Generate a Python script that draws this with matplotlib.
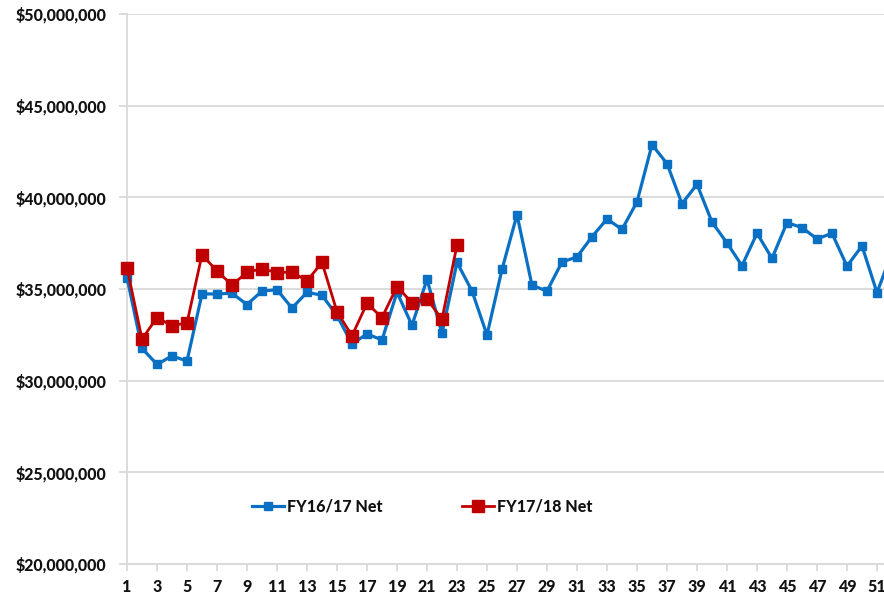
import matplotlib
matplotlib.use("Agg")
import matplotlib.pyplot as plt
from matplotlib.ticker import FuncFormatter, MultipleLocator, FixedLocator

weeks = list(range(1, 53))
fy1617 = [35.62, 31.76, 30.89, 31.35, 31.07, 34.73, 34.73, 34.77, 34.15, 34.89,
          34.96, 33.96, 34.82, 34.66, 33.55, 32.00, 32.55, 32.22, 34.82, 33.02,
          35.53, 32.58, 36.45, 34.89, 32.49, 36.07, 39.05, 35.20, 34.89, 36.47,
          36.75, 37.85, 38.82, 38.25, 39.75, 42.87, 41.84, 39.65, 40.71, 38.65,
          37.51, 36.27, 38.04, 36.67, 38.62, 38.35, 37.73, 38.04, 36.25, 37.35,
          34.80, 37.00]
fy1718 = [36.16, 32.27, 33.44, 33.00, 33.15, 36.87, 35.98, 35.22, 35.91, 36.11,
          35.89, 35.93, 35.44, 36.45, 33.76, 32.45, 34.22, 33.44, 35.13, 34.25,
          34.45, 33.35, 37.40]
fy1617 = [v * 1e6 for v in fy1617]
fy1718 = [v * 1e6 for v in fy1718]
x_ticks = list(range(1, 52, 2))

plt.rcParams['font.family'] = ['Lato', 'DejaVu Sans']

fig = plt.figure(figsize=(8.84, 5.95), dpi=100)
ax = fig.add_axes([127 / 884, 1 - 564 / 595, 765 / 884, 550 / 595])

blue = '#0A70C4'
red = '#C00000'
ax.plot(weeks, fy1617, color=blue, lw=2.3, marker='s', ms=5.5,
        label='FY16/17 Net', zorder=3, clip_on=False)
ax.plot(weeks[:len(fy1718)], fy1718, color=red, lw=2.0, marker='s', ms=8.5,
        label='FY17/18 Net', zorder=4, clip_on=False)

ax.set_xlim(1, 52)
ax.set_ylim(20e6, 50e6)
ax.yaxis.set_major_locator(MultipleLocator(5e6))
ax.yaxis.set_major_formatter(FuncFormatter(lambda v, p: f"${v:,.0f}"))
ax.xaxis.set_major_locator(FixedLocator(x_ticks))

ax.grid(axis='y', color='#D9D9D9', lw=1.3, zorder=0)
for s in ['top', 'right']:
    ax.spines[s].set_visible(False)
ax.spines['left'].set_color('#D9D9D9')
ax.spines['left'].set_linewidth(1.3)
ax.spines['bottom'].set_color('#D9D9D9')
ax.spines['bottom'].set_linewidth(1.3)
ax.tick_params(axis='y', length=6, color='#D9D9D9', width=1.3, pad=9,
               labelsize=11.5, labelcolor='#111111')
ax.tick_params(axis='x', length=5, color='#D9D9D9', width=1.3, pad=6,
               labelsize=11.5, labelcolor='#111111')
for lbl in ax.get_xticklabels() + ax.get_yticklabels():
    lbl.set_fontweight('black')

leg = ax.legend(loc='center', bbox_to_anchor=(0.386, 0.105), ncol=2, frameon=False,
                prop={'weight': 'black', 'size': 11.5}, handlelength=2.0,
                columnspacing=4.95, handletextpad=0.2)
for t in leg.get_texts():
    t.set_color('#111111')

fig.savefig('out.png', dpi=100)
